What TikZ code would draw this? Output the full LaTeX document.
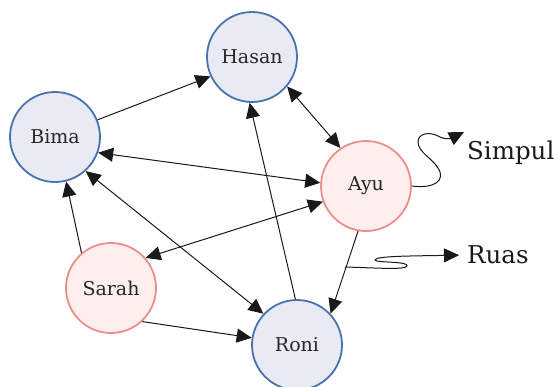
\documentclass[tikz,border=0pt]{standalone}
\usepackage{fontspec}
\setmainfont{DejaVu Serif}
\usetikzlibrary{arrows.meta}
\definecolor{blueline}{HTML}{4A72AE}
\definecolor{bluefill}{HTML}{E8EBF4}
\definecolor{pinkline}{HTML}{EE8E8C}
\definecolor{pinkfill}{HTML}{FCEFEE}
\tikzset{
  vert/.style={circle, minimum size=90pt, inner sep=0pt, line width=1.8pt, font=\fontsize{19}{22}\selectfont, text=black!85},
  bluev/.style={vert, draw=blueline, fill=bluefill},
  pinkv/.style={vert, draw=pinkline, fill=pinkfill},
  tip/.tip={Triangle[length=15pt,width=14pt]},
  edge/.style={line width=1pt, black!90, -tip},
  dedge/.style={edge, tip-tip},
  lbl/.style={font=\fontsize{24.5}{28}\selectfont, text=black!90, anchor=west, inner sep=0pt}
}
\begin{document}
\begin{tikzpicture}[x=1pt,y=-1pt]
\useasboundingbox (0,0) rectangle (559,386);
% vertices
\node[bluev] (hasan) at (252,57) {Hasan};
\node[bluev] (bima) at (55,137) {Bima};
\node[pinkv] (ayu) at (366,186) {Ayu};
\node[pinkv] (sarah) at (111,288) {Sarah};
\node[bluev] (roni) at (297,345) {Roni};
% edges
\draw[edge] (bima.22) -- (hasan.205);
\draw[dedge] (hasan.-40) -- (ayu.124);
\draw[dedge] (bima.-20) -- (ayu.176);
\draw[dedge] (bima.-48) -- (roni.137);
\draw[edge] (roni.92) -- (hasan.267);
\draw[edge] (sarah.130) -- (bima.-76);
\draw[dedge] (ayu.200) -- (sarah.41);
\draw[edge] (sarah.-47) -- (roni.171);
\draw[edge] (ayu.260) -- (roni.43);
% labels and their pointers
\node[lbl] (simpul) at (467,153) {Simpul};
\node[lbl] (ruas) at (467,255) {Ruas};
\coordinate (onedge) at (345,267);
\draw[edge] (ayu.east) .. controls (435,189) and (446,180) .. (438,168)
  .. controls (432,158) and (418,152) .. (418,142)
  .. controls (418,133) and (430,131) .. (440,137)
  .. controls (446,140) and (452,138) .. (464,132);
\draw[edge, shorten >=8pt] (onedge) .. controls (380,268) and (405,270) .. (407,266)
  .. controls (409,261) and (375,263) .. (375,260)
  .. controls (375,256) and (410,256) .. (ruas.west);
\end{tikzpicture}
\end{document}
